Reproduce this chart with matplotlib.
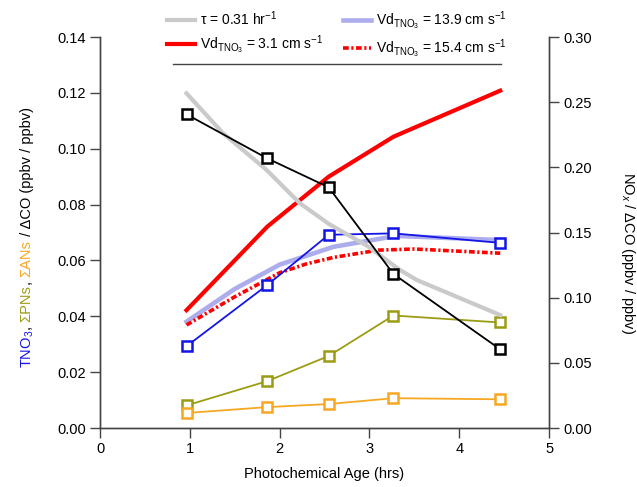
import matplotlib

matplotlib.use("Agg")
import matplotlib.pyplot as plt
from matplotlib.lines import Line2D

plt.rcParams["font.family"] = ["Liberation Sans", "DejaVu Sans"]
plt.rcParams["mathtext.fontset"] = "custom"
plt.rcParams["mathtext.rm"] = "Liberation Sans"
plt.rcParams["mathtext.it"] = "Liberation Sans:italic"

# observations (per photochemical-age bin)
age = [0.963, 1.862, 2.546, 3.267, 4.456]
tno3 = [0.0293, 0.0512, 0.0692, 0.0697, 0.0663]
pns = [0.0081, 0.0168, 0.0258, 0.0403, 0.0378]
ans = [0.0054, 0.0075, 0.0086, 0.0107, 0.0103]
nox = [0.2407, 0.2069, 0.1847, 0.1182, 0.0604]

# model curves
vd31 = [0.0422, 0.0721, 0.0900, 0.1043, 0.1208]
age_139 = [0.963, 1.5, 2.0, 2.3, 2.6, 3.3, 4.456]
vd139 = [0.0381, 0.0498, 0.0585, 0.0617, 0.0649, 0.0688, 0.0673]
age_154 = [0.963, 1.5, 2.0, 2.3, 2.6, 3.1, 3.5, 4.456]
vd154 = [0.0369, 0.0470, 0.0556, 0.0588, 0.0611, 0.0637, 0.0641, 0.0626]
age_tau = [0.963, 1.371, 1.855, 2.226, 2.55, 2.97, 3.341, 3.527, 4.0, 4.456]
nox_tau = [0.2568, 0.2261, 0.1980, 0.1724, 0.1565, 0.140, 0.1212, 0.1136, 0.0999, 0.0867]

BLUE = "#1414e6"
OLIVE = "#9c9c14"
ORANGE = "#f7a823"
SPINE = "#444444"

fig = plt.figure(figsize=(6.37, 4.87), dpi=100)
ax = fig.add_axes([0.157, 0.121, 0.705, 0.803])
ax2 = ax.twinx()

l_tau, = ax2.plot(age_tau, nox_tau, color="#cacaca", lw=3.0, zorder=1)
l31, = ax.plot(age, vd31, color="#ff0000", lw=3.0, zorder=1)
l139, = ax.plot(age_139, vd139, color="#adadee", lw=3.3, zorder=1)
l154, = ax.plot(age_154, vd154, color="#ff0000", lw=2.6,
                linestyle=(0, (1.6, 0.7, 0.6, 0.7)), zorder=1)

mk = dict(marker="s", markersize=7, mew=1.8, markerfacecolor="white", lw=1.3)
ax.plot(age, tno3, color=BLUE, **mk, zorder=3)
ax.plot(age, pns, color=OLIVE, **mk, zorder=3)
ax.plot(age, ans, color=ORANGE, **mk, zorder=3)
ax2.plot(age, nox, color="black", **mk, zorder=3)

ax.set_xlim(0, 5)
ax.set_ylim(0, 0.14)
ax2.set_ylim(0, 0.30)
ax.set_xticks([0, 1, 2, 3, 4, 5])
ax.set_yticks([0, 0.02, 0.04, 0.06, 0.08, 0.10, 0.12, 0.14])
ax.set_yticklabels([f"{v:.2f}" for v in ax.get_yticks()])
ax2.set_yticks([0, 0.05, 0.10, 0.15, 0.20, 0.25, 0.30])
ax2.set_yticklabels([f"{v:.2f}" for v in ax2.get_yticks()])

for a in (ax, ax2):
    a.spines["top"].set_visible(False)
    for s in ("left", "right", "bottom"):
        a.spines[s].set_color(SPINE)
        a.spines[s].set_linewidth(1.0)
    a.tick_params(direction="out", length=7, width=1, color=SPINE,
                  labelsize=10.5, pad=3)

ax.set_xlabel("Photochemical Age (hrs)", fontsize=10.5, labelpad=8)

# right axis label
fig.text(0.986, 0.48, "NO$_x$ / ΔCO (ppbv / ppbv)", rotation=270,
         ha="center", va="center", fontsize=10.5)

# multi-coloured left axis label, built bottom to top
pieces = [("TNO$_3$", BLUE), (", ", "black"), ("ΣPNs", OLIVE), (", ", "black"),
          ("ΣANs", ORANGE), (" / ΔCO (ppbv / ppbv)", "black")]
prev = fig.text(0.031, 0.244, pieces[0][0], color=pieces[0][1], rotation=90,
                ha="left", va="bottom", fontsize=10.5)
for txt, col in pieces[1:]:
    prev = fig.add_artist(plt.Annotation(txt, xy=(0, 1), xycoords=prev,
                                         color=col, rotation=90, ha="left",
                                         va="bottom", fontsize=10.5))

labels = [r"τ = 0.31 hr$^{\mathregular{-1}}$",
          r"Vd$_{\mathregular{TNO_3}}$ = 3.1 cm s$^{\mathregular{-1}}$",
          r"Vd$_{\mathregular{TNO_3}}$ = 13.9 cm s$^{\mathregular{-1}}$",
          r"Vd$_{\mathregular{TNO_3}}$ = 15.4 cm s$^{\mathregular{-1}}$"]
fig.legend([l_tau, l31, l139, l154], labels, ncol=2, loc="upper center",
           bbox_to_anchor=(0.529, 1.006), frameon=False, fontsize=10,
           handlelength=2.0, handletextpad=0.4, columnspacing=1.4,
           labelspacing=0.35)
fig.add_artist(Line2D([0.272, 0.786], [0.869, 0.869], color=SPINE, lw=1.0,
                      transform=fig.transFigure))

fig.savefig("out.png", dpi=100)
